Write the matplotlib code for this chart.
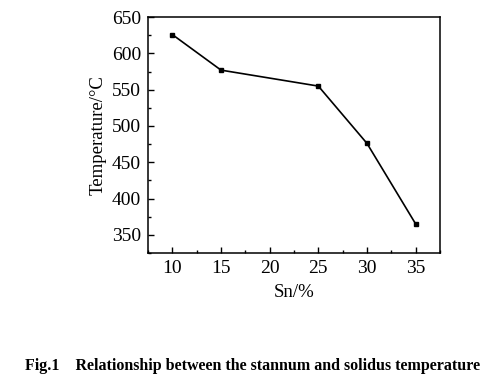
import matplotlib
matplotlib.use('Agg')
import matplotlib.pyplot as plt
from matplotlib.ticker import MultipleLocator

# data
sn = [10, 15, 25, 30, 35]
temperature = [626, 577, 555, 476, 365]
x_ticks = [10, 15, 20, 25, 30, 35]
y_ticks = [350, 400, 450, 500, 550, 600, 650]

plt.rcParams['font.family'] = ['Liberation Serif', 'DejaVu Serif']

fig = plt.figure(figsize=(5, 3.81), dpi=100)
ax = fig.add_axes([0.296, 0.336, 0.584, 0.619])

ax.plot(sn, temperature, color='black', lw=1.2, marker='s', ms=3.5)

ax.set_xlim(7.5, 37.5)
ax.set_ylim(325, 650)
ax.set_xticks(x_ticks)
ax.set_yticks(y_ticks)
ax.xaxis.set_minor_locator(MultipleLocator(2.5))
ax.yaxis.set_minor_locator(MultipleLocator(25))
ax.tick_params(which='both', direction='in', labelsize=14, width=1, pad=5)
ax.tick_params(which='major', length=4)
ax.tick_params(which='minor', length=2)
for s in ax.spines.values():
    s.set_linewidth(1.1)

ax.set_xlabel('Sn/%', fontsize=13.5, labelpad=5)
ax.set_ylabel('Temperature/°C', fontsize=13.5, labelpad=4)

fig.text(0.05, 0.018, 'Fig.1    Relationship between the stannum and solidus temperature',
         fontsize=11.5, fontweight='bold', ha='left', va='bottom')

fig.savefig('out.png', dpi=100)
